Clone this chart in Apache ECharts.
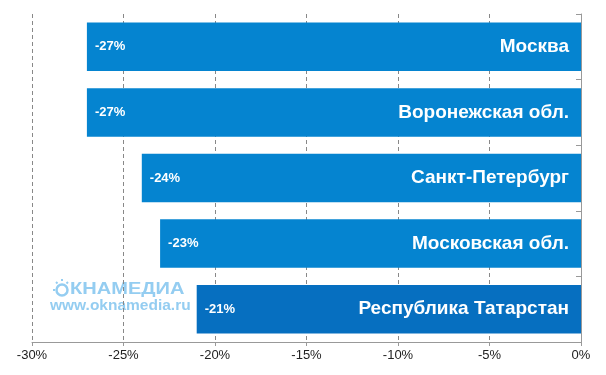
<!DOCTYPE html>
<html><head><meta charset="utf-8">
<script src="https://cdn.jsdelivr.net/npm/echarts@6/dist/echarts.min.js"></script>
<style>html,body{margin:0;padding:0;background:#fff}#c{width:606px;height:375px}</style>
</head><body><div id="c"></div>
<script>
const categories = ['Москва', 'Воронежская обл.', 'Санкт-Петербург', 'Московская обл.', 'Республика Татарстан'];
const values = [-27, -27, -24, -23, -21];
const barColors = ['#0584d0', '#0584d0', '#0584d0', '#0584d0', '#066fc0'];
const tickMin = -30, tickMax = 0, tickStep = 5;

const chart = echarts.init(document.getElementById('c'));
chart.setOption({
  animation: false,
  grid: {left: 32, right: 25, top: 14, bottom: 33, containLabel: false},
  xAxis: {
    type: 'value', min: tickMin, max: tickMax, interval: tickStep,
    axisLine: {show: true, lineStyle: {color: '#999'}},
    axisTick: {show: true, length: 4, lineStyle: {color: '#999'}},
    axisLabel: {formatter: v => v + '%', color: '#222', fontFamily: 'Liberation Sans, Arial', fontSize: 13, margin: 7},
    splitLine: {show: true, lineStyle: {type: [4, 3], color: '#888', width: 1}}
  },
  yAxis: {
    type: 'category', data: categories, inverse: true, position: 'right',
    axisLine: {show: true, lineStyle: {color: '#999'}},
    axisTick: {show: true, inside: true, length: 5, lineStyle: {color: '#999'}},
    axisLabel: {show: false}
  },
  series: [
    {
      type: 'bar', barWidth: '74%',
      data: values.map((v, i) => ({value: v, itemStyle: {color: barColors[i]}})),
      label: {show: true, position: 'insideLeft', distance: 8, formatter: p => p.value + '%',
        color: '#fff', fontWeight: 'bold', fontSize: 13, fontFamily: 'Liberation Sans, Arial'}
    },
    {
      type: 'bar', barWidth: '74%', barGap: '-100%',
      data: values, itemStyle: {color: 'rgba(0,0,0,0)'},
      label: {show: true, position: 'insideRight', distance: 12, formatter: p => p.name,
        color: '#fff', fontWeight: 'bold', fontSize: 19, fontFamily: 'Liberation Sans, Arial'}
    }
  ],
  graphic: [
    {type: 'circle', shape: {cx: 62, cy: 290, r: 5.5}, style: {fill: 'none', stroke: '#94cdf1', lineWidth: 2.5}},
    {type: 'line', shape: {x1: 53, y1: 290, x2: 55, y2: 290}, style: {stroke: '#94cdf1', lineWidth: 2}},
    {type: 'line', shape: {x1: 62, y1: 279, x2: 62, y2: 281}, style: {stroke: '#94cdf1', lineWidth: 2}},
    {type: 'line', shape: {x1: 56, y1: 282, x2: 57.5, y2: 283.5}, style: {stroke: '#94cdf1', lineWidth: 2}},
    {type: 'line', shape: {x1: 68, y1: 282, x2: 66.5, y2: 283.5}, style: {stroke: '#94cdf1', lineWidth: 2}},
    {type: 'text', x: 70, y: 281, scaleX: 1.18, style: {text: 'КНАМЕДИА', fill: '#94cdf1', font: 'bold 17px Liberation Sans, Arial'}},
    {type: 'text', left: 50, top: 298, style: {text: 'www.oknamedia.ru', fill: '#94cdf1', font: 'bold 15.5px Liberation Sans, Arial'}}
  ]
});
</script></body></html>
